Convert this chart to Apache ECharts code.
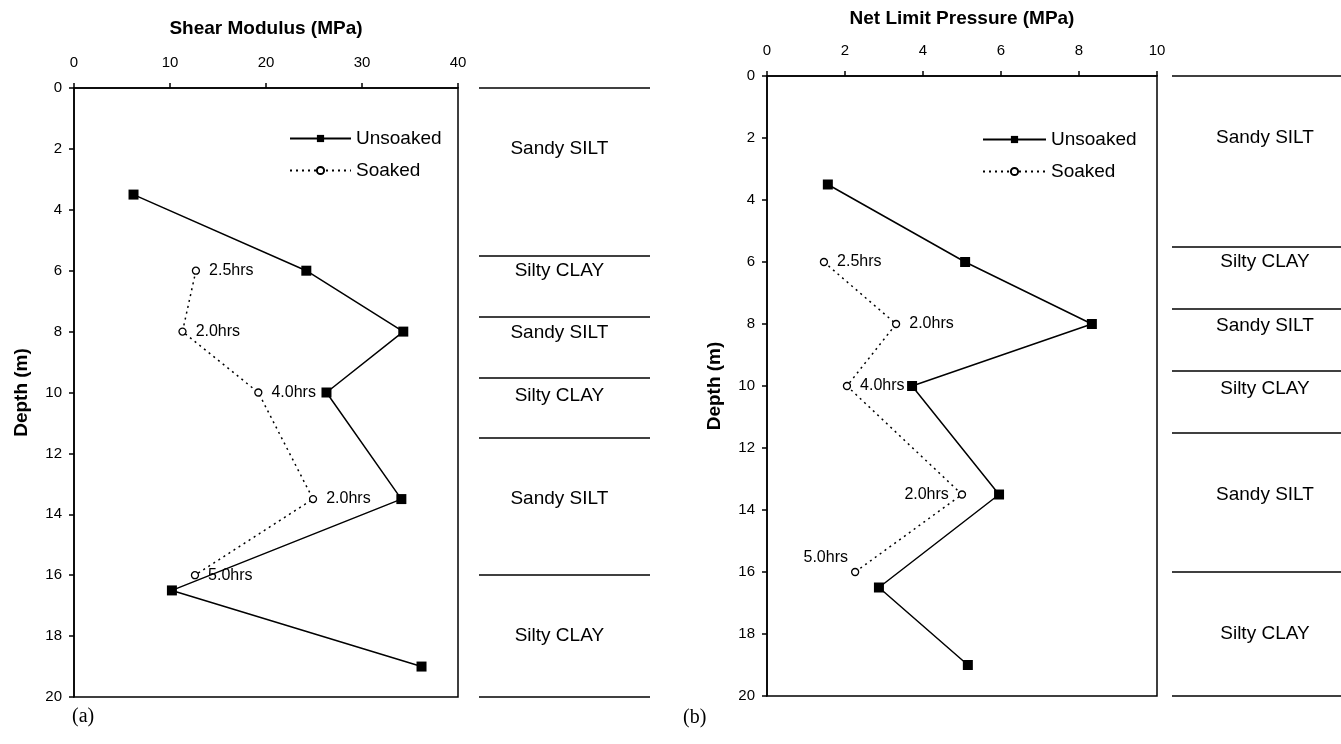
<!DOCTYPE html>
<html>
<head>
<meta charset="utf-8">
<script src="https://cdn.jsdelivr.net/npm/echarts@6/dist/echarts.min.js"></script>
<style>
  html, body { margin: 0; padding: 0; background: #fff; }
  #container { width: 1341px; height: 744px; }
</style>
</head>
<body>
<div id="container"></div>
<script>
// depths (m) of the test points
const depthUnsoaked = [3.5, 6, 8, 10, 13.5, 16.5, 19];
const depthSoaked = [6, 8, 10, 13.5, 16];
const soakTimes = ['2.5hrs', '2.0hrs', '4.0hrs', '2.0hrs', '5.0hrs'];

// (a) shear modulus, MPa
const shearUnsoaked = [6.2, 24.2, 34.3, 26.3, 34.1, 10.2, 36.2];
const shearSoaked = [12.7, 11.3, 19.2, 24.9, 12.6];

// (b) net limit pressure, MPa
const pressureUnsoaked = [1.56, 5.08, 8.33, 3.72, 5.95, 2.87, 5.15];
const pressureSoaked = [1.46, 3.31, 2.05, 5.0, 2.26];

// soil profile
const layerBounds = [0, 5.5, 7.5, 9.5, 11.5, 16, 20];
const layerNames = ['Sandy SILT', 'Silty CLAY', 'Sandy SILT', 'Silty CLAY', 'Sandy SILT', 'Silty CLAY'];
const layerLabelDepth = [2, 6, 8.05, 10.1, 13.5, 18];

const FONT = 'Liberation Sans, Arial, sans-serif';

function zip(xs, ys) {
    return xs.map((x, i) => [x, ys[i]]);
}

function valueX(gridIndex, max, interval, name, gap) {
    return {
        gridIndex: gridIndex, type: 'value', position: 'top',
        min: 0, max: max, interval: interval,
        name: name, nameLocation: 'middle', nameGap: gap,
        nameTextStyle: { fontFamily: FONT, fontWeight: 'bold', fontSize: 19, color: '#000' },
        axisLine: { show: true, onZero: false, lineStyle: { color: '#000', width: 1.5 } },
        axisTick: { show: true, length: 5, lineStyle: { color: '#000', width: 1.5 } },
        axisLabel: { fontFamily: FONT, fontSize: 15, color: '#000', margin: 18 },
        splitLine: { show: false }
    };
}

function depthY(gridIndex, shown) {
    return {
        gridIndex: gridIndex, type: 'value', inverse: true,
        min: 0, max: 20, interval: 2, show: shown,
        name: 'Depth (m)', nameLocation: 'middle', nameGap: 43,
        nameTextStyle: { fontFamily: FONT, fontWeight: 'bold', fontSize: 19, color: '#000' },
        axisLine: { show: true, onZero: false, lineStyle: { color: '#000', width: 1.5 } },
        axisTick: { show: true, length: 5, lineStyle: { color: '#000', width: 1.5 } },
        axisLabel: { fontFamily: FONT, fontSize: 15, color: '#000', margin: 12 },
        splitLine: { show: false }
    };
}

function hiddenX(gridIndex) {
    return { gridIndex: gridIndex, type: 'value', min: 0, max: 1, show: false, splitLine: { show: false } };
}

function unsoakedSeries(idx, xs) {
    return {
        name: 'Unsoaked', type: 'line', xAxisIndex: idx, yAxisIndex: idx,
        data: zip(xs, depthUnsoaked),
        symbol: 'rect', symbolSize: 10,
        itemStyle: { color: '#000' },
        lineStyle: { color: '#000', width: 1.5 },
        z: 3
    };
}

function soakedSeries(idx, xs, labelPos) {
    return {
        name: 'Soaked', type: 'line', xAxisIndex: idx, yAxisIndex: idx,
        data: zip(xs, depthSoaked).map((p, i) => ({
            value: p,
            label: {
                show: true, formatter: soakTimes[i],
                position: labelPos[i][0], offset: labelPos[i][1],
                fontFamily: FONT, fontSize: 16, color: '#000', distance: 9
            }
        })),
        symbol: 'circle', symbolSize: 7, showSymbol: true,
        itemStyle: { color: '#fff', borderColor: '#000', borderWidth: 1.3 },
        lineStyle: { color: '#000', width: 1.5, type: [2, 4] },
        z: 4
    };
}

function layerSeries(idx, labelX) {
    return [{
        type: 'line', xAxisIndex: idx, yAxisIndex: idx, data: [], silent: true,
        markLine: {
            symbol: 'none', silent: true, animation: false,
            label: { show: false },
            lineStyle: { color: '#000', width: 1.5, type: 'solid' },
            data: layerBounds.map(d => ({ yAxis: d }))
        }
    }, {
        type: 'scatter', xAxisIndex: idx, yAxisIndex: idx, symbolSize: 0, silent: true,
        itemStyle: { opacity: 1, color: '#000' },
        data: layerNames.map((n, i) => [labelX, layerLabelDepth[i], n]),
        label: {
            show: true, position: 'inside', formatter: p => p.data[2],
            fontFamily: FONT, fontSize: 19, color: '#000', opacity: 1
        }
    }];
}

function legendFor(left, top, width) {
    return {
        data: ['Unsoaked', 'Soaked'], orient: 'vertical',
        left: left, top: top, padding: 0, itemWidth: width, itemHeight: 9, itemGap: 13,
        selectedMode: false,
        textStyle: { fontFamily: FONT, fontSize: 19, color: '#000' }
    };
}

const chart = echarts.init(document.getElementById('container'));
chart.setOption({
    animation: false,
    backgroundColor: '#fff',
    grid: [
        { left: 74, top: 88, width: 384, height: 609, show: true, borderColor: '#000', borderWidth: 1.5 },
        { left: 767, top: 76, width: 390, height: 620, show: true, borderColor: '#000', borderWidth: 1.5 },
        { left: 479, top: 88, width: 171, height: 609 },
        { left: 1172, top: 76, width: 169, height: 620 }
    ],
    xAxis: [
        valueX(0, 40, 10, 'Shear Modulus (MPa)', 50),
        valueX(1, 10, 2, 'Net Limit Pressure (MPa)', 48),
        hiddenX(2),
        hiddenX(3)
    ],
    yAxis: [depthY(0, true), depthY(1, true), depthY(2, false), depthY(3, false)],
    legend: [legendFor(289, 129, 61), legendFor(982, 130, 63)],
    series: [
        unsoakedSeries(0, shearUnsoaked),
        soakedSeries(0, shearSoaked, [['right', [0, 0]], ['right', [0, 0]], ['right', [0, 0]], ['right', [0, 0]], ['right', [0, 0]]]),
        unsoakedSeries(1, pressureUnsoaked),
        soakedSeries(1, pressureSoaked, [['right', [0, 0]], ['right', [0, 0]], ['right', [0, 0]], ['left', [0, 0]], ['left', [6, -14]]]),
        ...layerSeries(2, 0.47),
        ...layerSeries(3, 0.55)
    ],
    graphic: [
        { type: 'text', left: 72, top: 707, style: { text: '(a)', font: '20px "Liberation Serif", serif', fill: '#000' } },
        { type: 'text', left: 683, top: 708, style: { text: '(b)', font: '20px "Liberation Serif", serif', fill: '#000' } }
    ]
});
</script>
</body>
</html>
